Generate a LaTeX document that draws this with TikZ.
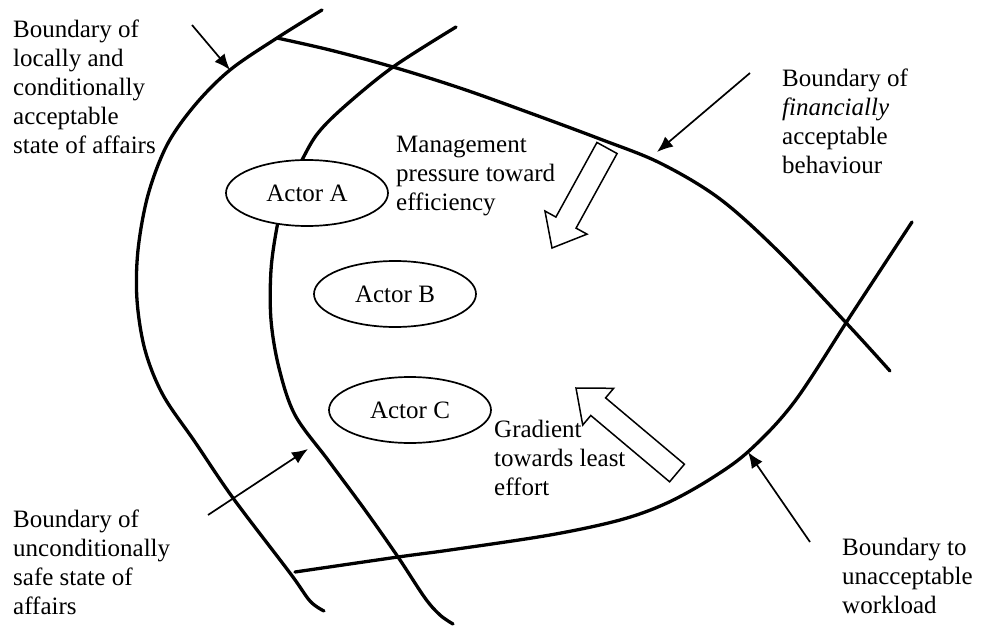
\documentclass[tikz,border=0pt]{standalone}
\usepackage{fontspec}
\setmainfont{Liberation Serif}
\usetikzlibrary{shapes.geometric,arrows.meta,calc}

\tikzset{
  boundary/.style={line width=3.3pt, line cap=round, line join=round},
  actor/.style={ellipse, draw, line width=1.7pt, fill=white, inner sep=0pt,
                minimum width=162pt, minimum height=66pt,
                font=\fontsize{25}{29}\selectfont},
  label/.style={anchor=north west, inner sep=0pt, align=left,
                font=\fontsize{25}{29}\selectfont},
  pointer/.style={line width=1.7pt, -{Latex[length=16pt,width=13pt]}},
  fatarrow/.style={line width=1.5pt, line join=miter, fill=white}
}

% hollow block arrow from #1 (tail) to #2 (tip)
\newcommand{\blockarrow}[2]{%
  \coordinate (hb) at ($(#2)!29pt!(#1)$);
  \draw[fatarrow]
    ($(#1)!11.5pt!90:(#2)$) -- ($(hb)!11.5pt!-90:(#1)$) -- ($(hb)!24pt!-90:(#1)$)
    -- (#2)
    -- ($(hb)!24pt!90:(#1)$) -- ($(hb)!11.5pt!90:(#1)$) -- ($(#1)!11.5pt!-90:(#2)$)
    -- cycle;}

\begin{document}
\begin{tikzpicture}[x=1pt,y=-1pt]
\useasboundingbox (0,0) rectangle (981,628);

% boundary of locally and conditionally acceptable state of affairs
\draw[boundary] plot[smooth, tension=0.55] coordinates {
  (322,10) (277,38) (230,70) (195,105) (167,145) (148,195) (138,250)
  (137,300) (145,350) (163,395) (195,442) (233,498) (290,573) (310,601) (324,611)};

% boundary of unconditionally safe state of affairs
\draw[boundary] plot[smooth, tension=0.55] coordinates {
  (456,27) (393,67) (345,106) (318,133) (302,160) (285,195) (277,227)
  (271,270) (271,320) (279,368) (295,415) (328,460) (365,510) (398,557)
  (425,598) (440,615) (453,624)};

% boundary of financially acceptable behaviour
\draw[boundary] plot[smooth, tension=0.55] coordinates {
  (277,38) (330,50) (393,67) (460,88) (530,113) (600,139) (660,163)
  (720,199) (780,253) (850,327) (890,371)};

% boundary to unacceptable workload
\draw[boundary] plot[smooth, tension=0.55] coordinates {
  (295,572) (398,557) (450,550) (550,535) (620,520) (667,503) (712,478)
  (750,450) (795,401) (853,312) (912,222)};

% actors
\node[actor] (A) at (307,193) {Actor A};
\node[actor] (B) at (395,294) {Actor B};
\node[actor] (C) at (410,410) {Actor C};

% labels
\node[label] (tl) at (13,20) {Boundary of\\locally and\\conditionally\\acceptable\\state of affairs};
\node[label] (tr) at (782,69) {Boundary of\\\textit{financially}\\acceptable\\behaviour};
\node[label] (mg) at (396,136) {Management\\pressure toward\\efficiency};
\node[label] (gr) at (494,420) {Gradient\\towards least\\effort};
\node[label] (br) at (842,538) {Boundary to\\unacceptable\\workload};
\node[label] (bl) at (13,510) {Boundary of\\unconditionally\\safe state of\\affairs};

% pointers onto the boundaries
\coordinate (p1s) at (192,25);  \coordinate (p1e) at (230,70);
\coordinate (p2s) at (750,73);  \coordinate (p2e) at (657,152);
\coordinate (p3s) at (208,515); \coordinate (p3e) at (308,449);
\coordinate (p4s) at (810,542); \coordinate (p4e) at (748,452);
\draw[pointer] (p1s) -- (p1e);
\draw[pointer] (p2s) -- (p2e);
\draw[pointer] (p3s) -- (p3e);
\draw[pointer] (p4s) -- (p4e);

% pressures
\coordinate (mt) at (607,148); \coordinate (mh) at (552,248);
\coordinate (gt) at (677,473); \coordinate (gh) at (576,388);
\blockarrow{mt}{mh}
\blockarrow{gt}{gh}
\end{tikzpicture}
\end{document}
